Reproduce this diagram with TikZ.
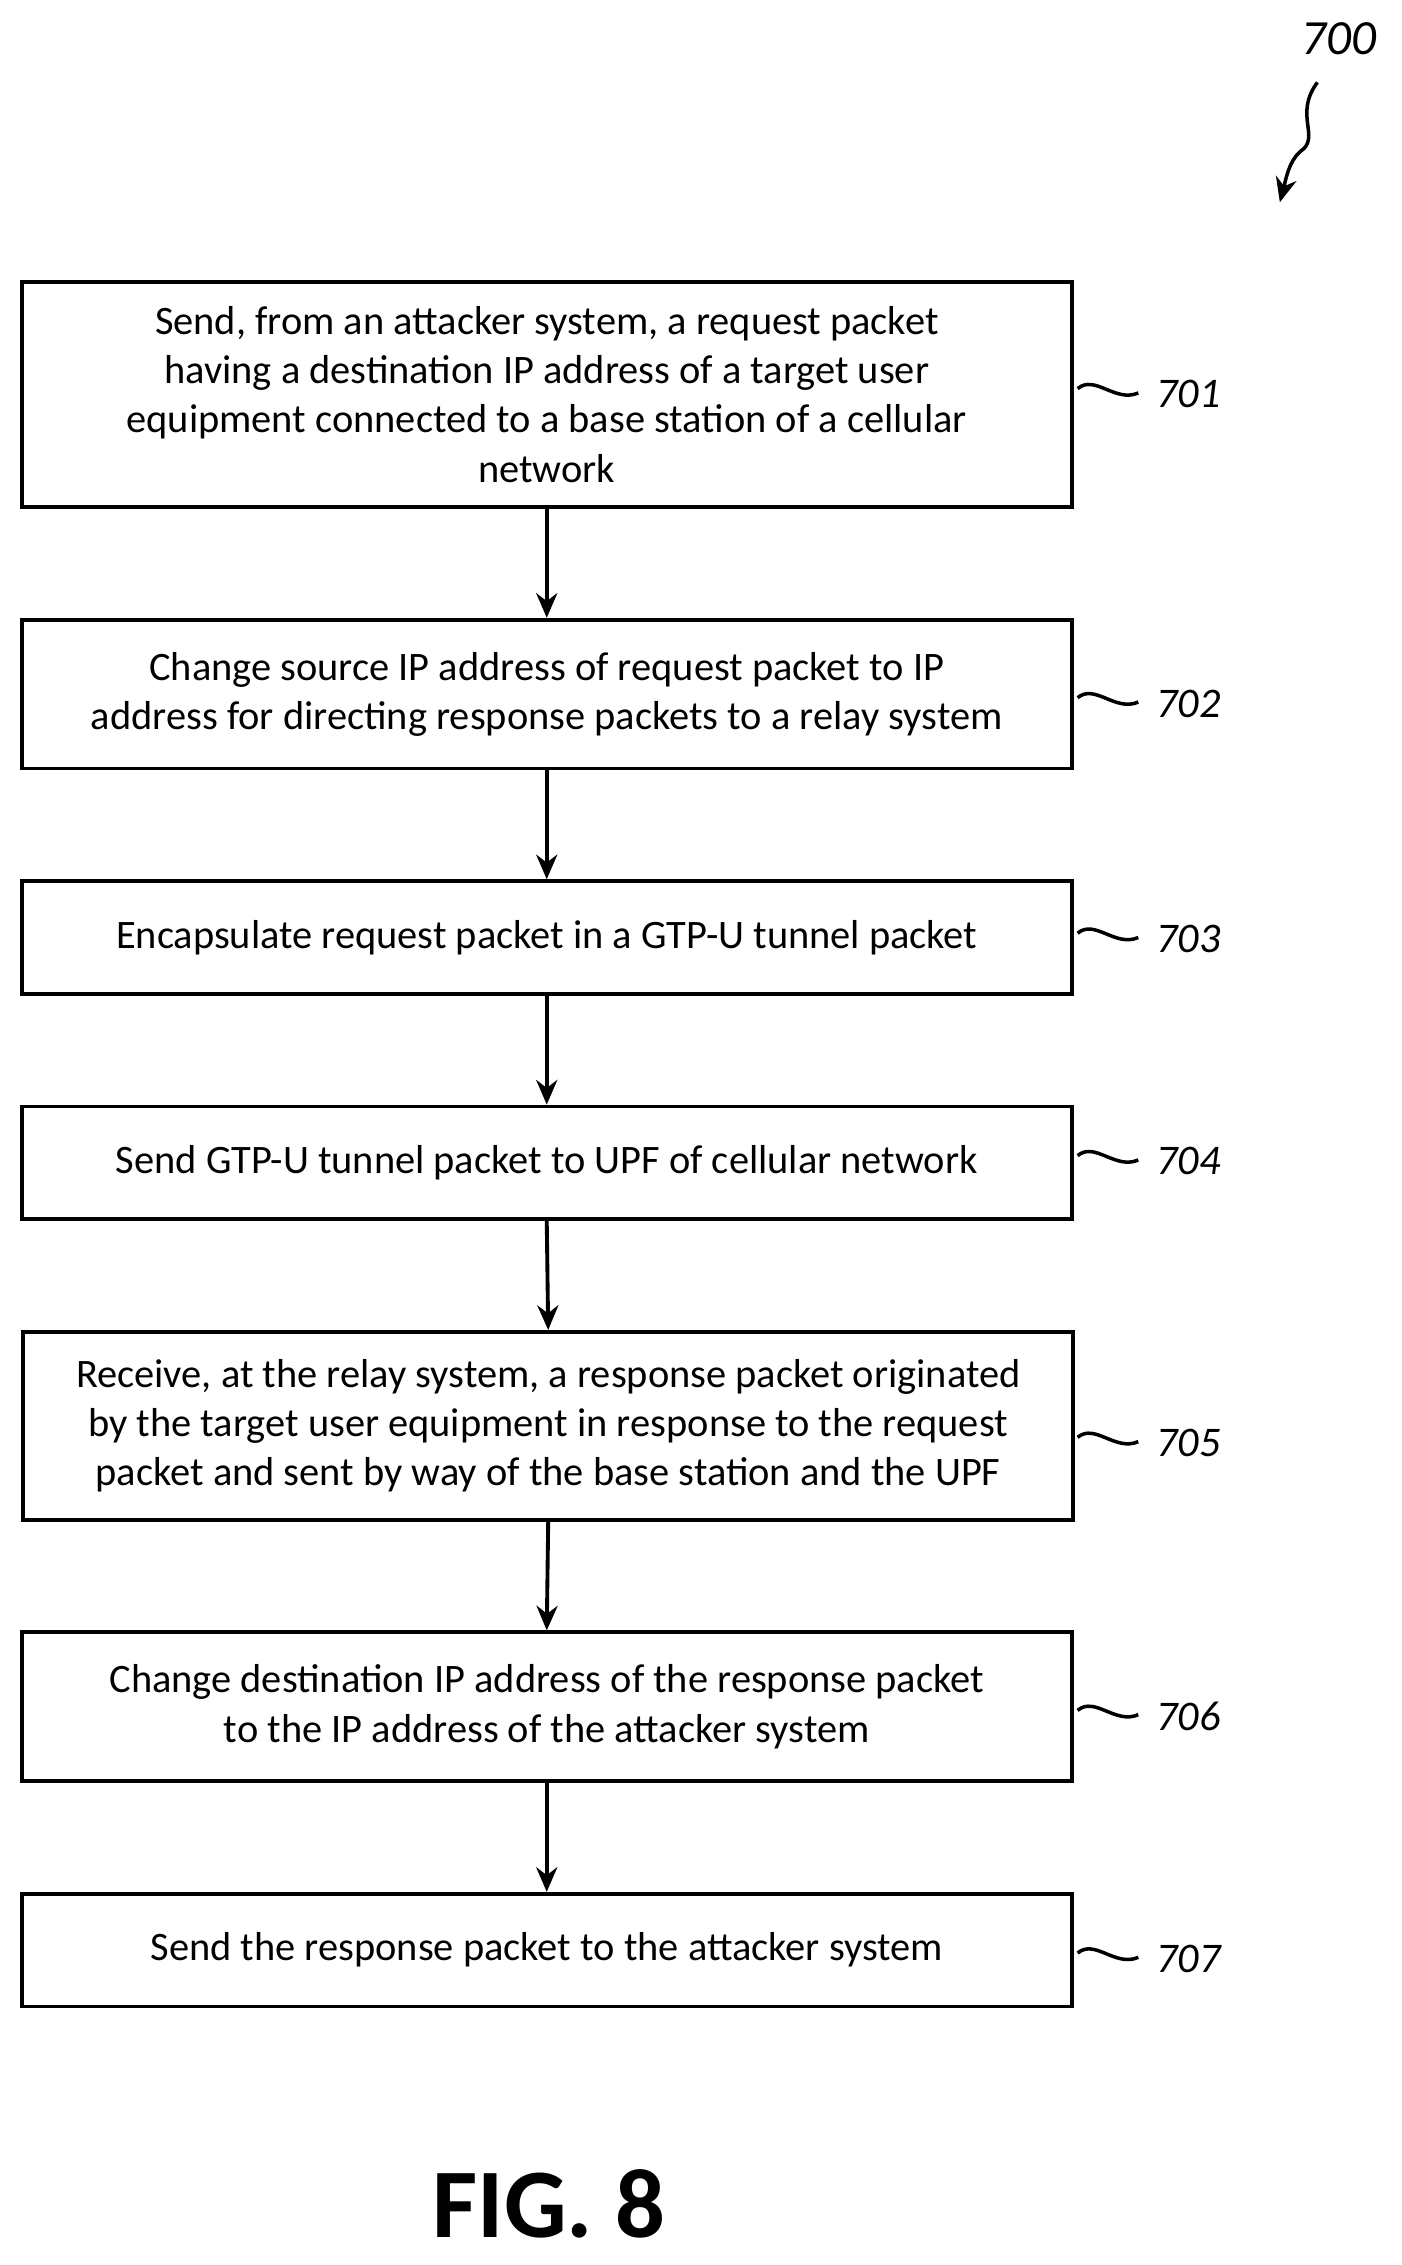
\documentclass[tikz,border=0pt]{standalone}
\usepackage{fontspec}
\setmainfont{Carlito}
\usetikzlibrary{arrows.meta}
\tikzset{
  flowstep/.style={draw,line width=1.1pt,minimum width=727*0.01445cm,align=center,inner sep=0pt,font=\fontsize{11.5}{14}\selectfont},
  ref/.style={font=\fontsize{12}{14}\selectfont\itshape,anchor=west},
  flow/.style={-{Stealth[length=7pt,width=6pt]},line width=1.1pt}
}
\begin{document}
\begin{tikzpicture}[x=0.01445cm,y=-0.01445cm]
  \useasboundingbox (0,0) rectangle (970,1568);
  % steps
  \node[flowstep,minimum height=156*0.01445cm] (s701) at (378.5,273) {Send, from an attacker system, a request packet\\having a destination IP address of a target user\\equipment connected to a base station of a cellular\\network};
  \node[flowstep,minimum height=103*0.01445cm] (s702) at (378.5,480.5) {Change source IP address of request packet to IP\\address for directing response packets to a relay system};
  \node[flowstep,minimum height=78*0.01445cm] (s703) at (378.5,649) {Encapsulate request packet in a GTP-U tunnel packet};
  \node[flowstep,minimum height=78*0.01445cm] (s704) at (378.5,805) {Send GTP-U tunnel packet to UPF of cellular network};
  \node[flowstep,minimum height=130*0.01445cm] (s705) at (379.5,987) {Receive, at the relay system, a response packet originated\\by the target user equipment in response to the request\\packet and sent by way of the base station and the UPF};
  \node[flowstep,minimum height=103*0.01445cm] (s706) at (378.5,1181.5) {Change destination IP address of the response packet\\to the IP address of the attacker system};
  \node[flowstep,minimum height=78*0.01445cm] (s707) at (378.5,1350) {Send the response packet to the attacker system};
  % arrows
  \foreach \a/\b in {701/702,702/703,703/704,704/705,705/706,706/707}
    \draw[flow] (s\a.south) -- (s\b.north);
  % reference numerals
  \foreach \n/\y in {701/273,702/487,703/650,704/804,705/999,706/1188,707/1356}{
    \draw[line width=1pt] (746,\y-4) .. controls (758,\y-14) and (772,\y+6) .. (788,\y-1);
    \node[ref] (r\n) at (792,\y) {\n};
  }
  \node[font=\fontsize{14}{16}\selectfont\itshape] (r700) at (927,27) {700};
  \coordinate (t700) at (886,140);
  \draw[-{Stealth[length=7pt,width=6pt]},line width=1pt] (912,57) .. controls (895,80) and (915,95) .. (900,105) .. controls (892,112) and (890,125) .. (t700);
  \node[font=\fontsize{28}{30}\selectfont\bfseries] (fig) at (380,1526) {FIG. 8};
\end{tikzpicture}
\end{document}
